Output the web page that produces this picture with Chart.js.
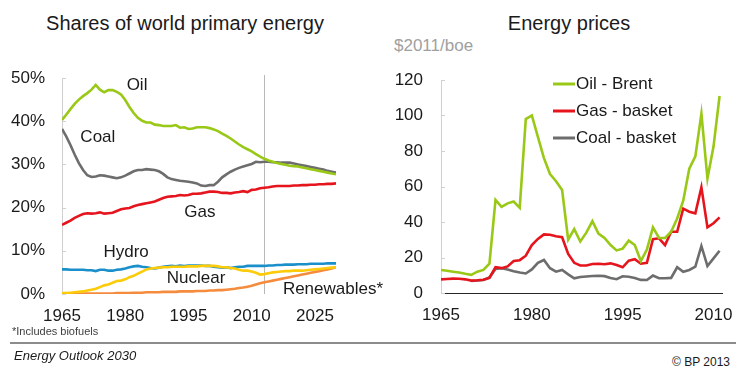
<!DOCTYPE html>
<html>
<head>
<meta charset="utf-8">
<script src="https://cdn.jsdelivr.net/npm/chart.js@4.4.1/dist/chart.umd.min.js"></script>
<style>
  body { margin: 0; width: 736px; height: 370px; overflow: hidden; background: #fff; position: relative; font-family: "Liberation Sans", Arial, sans-serif; color: #1a1a1a; }
  .titre { position: absolute; top: 12px; font-family: "Liberation Sans Narrow", "Liberation Sans", Arial, sans-serif; font-size: 20px; white-space: nowrap; transform: translateX(-50%); }
  .bloc { position: absolute; top: 60px; }
  #unite { position: absolute; left: 394px; top: 36px; font-size: 17px; color: #a0a0a0; }
  #note { position: absolute; left: 12px; top: 325px; font-size: 11px; color: #404040; }
  #trait { position: absolute; left: 10px; top: 342px; width: 726px; border-top: 2px solid #8c8c8c; }
  #source { position: absolute; left: 14px; top: 348px; font-size: 13px; font-style: italic; }
  #copy { position: absolute; right: 6px; top: 355px; font-size: 12px; }
</style>
</head>
<body>

<div class="titre" style="left:185px">Shares of world primary energy</div>
<div class="titre" style="left:569px">Energy prices</div>
<div id="unite">$2011/boe</div>

<div class="bloc" style="left:0px"><canvas id="graphParts" width="400" height="270"></canvas></div>
<div class="bloc" style="left:370px"><canvas id="graphPrix" width="375" height="270"></canvas></div>

<div id="note">*Includes biofuels</div>
<div id="trait"></div>
<div id="source">Energy Outlook 2030</div>
<div id="copy">© BP 2013</div>

<script>
//************************************ Données graphe 1 : parts de l'énergie primaire mondiale (%) ************************************

const anneesParts = Array.from({ length: 66 }, (_, i) => 1965 + i) // 1965 -> 2030
const ticksParts = [1965, 1980, 1995, 2010, 2025]

const partPetrole = [40.3, 41.5, 42.8, 44.0, 45.0, 45.8, 46.5, 47.3, 48.4, 47.3,
  46.7, 47.2, 47.2, 46.8, 46.2, 44.9, 43.3, 41.9, 40.8, 40.1,
  39.7, 39.7, 39.2, 39.1, 38.9, 38.9, 38.9, 39.1, 38.5, 38.6,
  38.2, 38.3, 38.6, 38.6, 38.6, 38.4, 38.1, 37.7, 37.1, 36.6,
  36.0, 35.3, 34.6, 34.0, 33.5, 33.0, 32.4, 31.8, 31.3, 30.9,
  30.6, 30.3, 30.1, 29.9, 29.7, 29.6, 29.5, 29.3, 29.1, 28.9,
  28.7, 28.5, 28.3, 28.1, 27.9, 27.7]

const partCharbon = [38.2, 36.5, 34.5, 32.3, 30.3, 28.7, 27.5, 27.1, 27.2, 27.5,
  27.4, 27.2, 27.0, 26.8, 27.0, 27.4, 27.9, 28.4, 28.7, 28.7,
  28.9, 28.8, 28.7, 28.4, 27.8, 27.0, 26.6, 26.4, 26.2, 26.1,
  26.0, 25.8, 25.6, 25.1, 25.0, 25.2, 25.2, 26.0, 27.0, 27.7,
  28.3, 28.8, 29.2, 29.5, 29.8, 30.1, 30.6, 30.5, 30.6, 30.6,
  30.5, 30.5, 30.4, 30.4, 30.4, 30.2, 30.0, 29.8, 29.6, 29.4,
  29.2, 29.0, 28.8, 28.5, 28.3, 28.1]

const partGaz = [16.0, 16.5, 17.0, 17.6, 18.1, 18.5, 18.7, 18.6, 18.7, 18.9,
  18.6, 18.7, 18.8, 19.2, 19.6, 19.8, 19.9, 20.3, 20.6, 20.8,
  21.0, 21.2, 21.4, 21.8, 22.2, 22.5, 22.6, 22.7, 22.9, 22.8,
  22.9, 23.2, 23.2, 23.3, 23.5, 23.7, 23.7, 23.6, 23.4, 23.4,
  23.3, 23.5, 23.6, 23.8, 23.6, 24.1, 24.2, 24.5, 24.6, 24.7,
  24.9, 25.0, 25.0, 25.0, 25.0, 25.1, 25.1, 25.2, 25.2, 25.3,
  25.3, 25.4, 25.4, 25.5, 25.5, 25.6]

const partHydro = [5.7, 5.7, 5.6, 5.6, 5.6, 5.6, 5.5, 5.5, 5.3, 5.6,
  5.6, 5.4, 5.4, 5.6, 5.7, 5.9, 6.2, 6.4, 6.5, 6.3,
  6.2, 6.0, 5.9, 6.1, 6.3, 6.4, 6.5, 6.4, 6.6, 6.5,
  6.6, 6.6, 6.6, 6.6, 6.5, 6.5, 6.3, 6.2, 6.1, 6.2,
  6.0, 6.2, 6.3, 6.3, 6.5, 6.5, 6.5, 6.5, 6.5, 6.6,
  6.6, 6.7, 6.7, 6.8, 6.8, 6.8, 6.9, 6.9, 6.9, 7.0,
  7.0, 7.0, 7.0, 7.1, 7.1, 7.1]

const partNucleaire = [0.2, 0.2, 0.3, 0.4, 0.5, 0.6, 0.8, 1.0, 1.2, 1.6,
  2.0, 2.2, 2.6, 3.0, 3.1, 3.4, 3.9, 4.2, 4.7, 5.2,
  5.7, 5.9, 6.0, 6.1, 6.2, 6.2, 6.3, 6.3, 6.3, 6.3,
  6.4, 6.4, 6.4, 6.5, 6.5, 6.5, 6.5, 6.4, 6.2, 6.2,
  6.0, 5.9, 5.6, 5.4, 5.4, 5.2, 4.9, 4.5, 4.6, 4.8,
  5.0, 5.1, 5.2, 5.3, 5.3, 5.4, 5.4, 5.4, 5.5, 5.6,
  5.7, 5.8, 5.9, 6.0, 6.1, 6.2]

const partRenouvelables = [0.1, 0.1, 0.1, 0.1, 0.1, 0.1, 0.1, 0.1, 0.1, 0.1,
  0.1, 0.1, 0.1, 0.2, 0.2, 0.2, 0.2, 0.3, 0.3, 0.3,
  0.4, 0.4, 0.4, 0.4, 0.5, 0.5, 0.5, 0.5, 0.6, 0.6,
  0.6, 0.6, 0.7, 0.7, 0.7, 0.8, 0.8, 0.9, 0.9, 1.0,
  1.1, 1.2, 1.4, 1.5, 1.7, 1.9, 2.2, 2.5, 2.7, 2.9,
  3.1, 3.3, 3.5, 3.7, 3.9, 4.1, 4.3, 4.5, 4.7, 4.9,
  5.1, 5.3, 5.5, 5.7, 5.9, 6.2]

const ANNEE_PROJECTION = 2013 // trait vertical : début des projections

//************************************ Données graphe 2 : prix de l'énergie ($2011/boe) ************************************

const anneesPrix = Array.from({ length: 47 }, (_, i) => 1965 + i) // 1965 -> 2011
const ticksPrix = [1965, 1980, 1995, 2010]

const prixBrent = [13.0, 12.5, 12.0, 11.5, 10.8, 10.2, 12.0, 13.0, 16.5, 52.5,
  48.5, 50.5, 51.5, 48.0, 98.0, 100.0, 88.0, 76.0, 67.0, 63.0,
  58.0, 30.0, 36.0, 29.0, 34.0, 40.5, 33.5, 31.0, 27.0, 24.0,
  25.0, 29.5, 27.0, 18.0, 24.5, 37.0, 31.0, 31.0, 34.5, 42.0,
  52.0, 70.0, 77.0, 101.0, 64.5, 82.5, 111.0]

const prixGaz = [7.7, 7.9, 8.1, 8.0, 7.7, 7.0, 7.2, 7.5, 8.5, 14.5,
  14.0, 15.0, 18.0, 18.5, 21.0, 27.0, 30.5, 33.0, 32.8, 32.0,
  31.4, 22.0, 17.0, 15.5, 15.5, 16.3, 16.5, 16.2, 16.7, 15.8,
  14.5, 18.2, 19.0, 16.5, 17.0, 30.3, 30.8, 27.0, 34.5, 34.5,
  47.5, 45.8, 44.9, 59.5, 37.0, 39.3, 42.6]

const prixCharbon = [null, null, null, null, null, 6.8, 7.0, 7.3, 8.8, 13.5,
  13.9, 13.2, 12.3, 11.5, 11.0, 13.3, 17.0, 18.6, 14.0, 12.0,
  13.0, 10.5, 8.3, 9.0, 9.3, 9.6, 9.7, 9.5, 8.5, 7.8,
  9.4, 9.2, 8.5, 7.4, 7.3, 9.8, 8.3, 8.3, 8.5, 14.5,
  12.0, 13.0, 14.8, 26.5, 15.2, 19.5, 23.8]

//************************************ Couleurs ************************************

const VERT = '#99c817'
const ROUGE = '#e5141d'
const GRIS = '#6d6d6d'
const BLEU = '#1a8fc9'
const JAUNE = '#fccb0a'
const ORANGE = '#f58b3c'
const TEXTE = '#1a1a1a'

Chart.defaults.font.family = '"Liberation Sans", Arial, sans-serif'
Chart.defaults.font.size = 17
Chart.defaults.color = TEXTE

// transforme deux tableaux (années, valeurs) en points {x, y} pour l'axe linéaire
function enPoints(annees, valeurs) {
  return annees.map((a, i) => ({ x: a, y: valeurs[i] }))
}

function serie(label, annees, valeurs, couleur) {
  return {
    label: label,
    data: enPoints(annees, valeurs),
    borderColor: couleur,
    backgroundColor: couleur,
    borderWidth: 2.6,
    pointRadius: 0,
    tension: 0,
    spanGaps: false
  }
}

// l'axe vertical ne doit pas réserver de marge en haut/bas pour ses libellés
function largeurAxeY(largeur) {
  return s => {
    s.width = largeur
    s.paddingTop = 0
    s.paddingBottom = 0
  }
}

// petites graduations vers l'intérieur sur l'axe vertical
const graduations = {
  id: 'graduations',
  afterDraw(chart) {
    const ctx = chart.ctx
    const y = chart.scales.y
    ctx.save()
    ctx.strokeStyle = '#d0d0d0'
    ctx.lineWidth = 1
    for (const t of y.ticks) {
      const py = Math.round(y.getPixelForValue(t.value)) + 0.5
      ctx.beginPath()
      ctx.moveTo(chart.chartArea.left, py)
      ctx.lineTo(chart.chartArea.left + 4, py)
      ctx.stroke()
    }
    ctx.restore()
  }
}

// trait vertical qui sépare l'historique des projections
const traitProjection = {
  id: 'traitProjection',
  beforeDatasetsDraw(chart) {
    const ctx = chart.ctx
    const px = Math.round(chart.scales.x.getPixelForValue(ANNEE_PROJECTION)) + 0.5
    ctx.save()
    ctx.strokeStyle = '#b8b8b8'
    ctx.lineWidth = 1
    ctx.beginPath()
    ctx.moveTo(px, chart.chartArea.top - 3)
    ctx.lineTo(px, chart.chartArea.bottom)
    ctx.stroke()
    ctx.restore()
  }
}

// noms des énergies écrits directement dans le graphe 1
const NOMS = [
  { texte: 'Oil', x: 1982.8, y: 48.4, align: 'center' },
  { texte: 'Coal', x: 1973.5, y: 36.3, align: 'center' },
  { texte: 'Gas', x: 1997.7, y: 19.0, align: 'center' },
  { texte: 'Hydro', x: 1980.2, y: 9.7, align: 'center' },
  { texte: 'Nuclear', x: 1996.8, y: 3.7, align: 'center' },
  { texte: 'Renewables*', x: 2017.4, y: 1.2, align: 'left' }
]

const nomsEnergies = {
  id: 'nomsEnergies',
  afterDraw(chart) {
    const ctx = chart.ctx
    ctx.save()
    ctx.font = '17px "Liberation Sans", Arial, sans-serif'
    ctx.fillStyle = TEXTE
    ctx.textBaseline = 'middle'
    for (const n of NOMS) {
      ctx.textAlign = n.align
      ctx.fillText(n.texte, chart.scales.x.getPixelForValue(n.x), chart.scales.y.getPixelForValue(n.y))
    }
    ctx.restore()
  }
}

// légende dessinée à la main dans la zone du graphe 2
const legendeInterne = {
  id: 'legendeInterne',
  afterDraw(chart) {
    const ctx = chart.ctx
    const x0 = 183
    let y0 = 24
    ctx.save()
    ctx.font = '17px "Liberation Sans", Arial, sans-serif'
    ctx.textBaseline = 'middle'
    ctx.textAlign = 'left'
    for (const ds of chart.data.datasets) {
      ctx.strokeStyle = ds.borderColor
      ctx.lineWidth = 3
      ctx.beginPath()
      ctx.moveTo(x0, y0)
      ctx.lineTo(x0 + 22, y0)
      ctx.stroke()
      ctx.fillStyle = TEXTE
      ctx.fillText(ds.label, x0 + 23, y0)
      y0 += 27
    }
    ctx.restore()
  }
}

//************************************ Graphe 1 ************************************

new Chart(document.getElementById('graphParts'), {
  type: 'line',
  data: {
    datasets: [
      serie('Oil', anneesParts, partPetrole, VERT),
      serie('Coal', anneesParts, partCharbon, GRIS),
      serie('Gas', anneesParts, partGaz, ROUGE),
      serie('Nuclear', anneesParts, partNucleaire, JAUNE),
      serie('Hydro', anneesParts, partHydro, BLEU),
      serie('Renewables*', anneesParts, partRenouvelables, ORANGE)
    ]
  },
  options: {
    responsive: false,
    animation: false,
    layout: { padding: { top: 18, right: 64, bottom: 0, left: 0 } },
    plugins: { legend: { display: false }, tooltip: { enabled: false } },
    scales: {
      x: {
        type: 'linear', min: 1965, max: 2030,
        afterBuildTicks: s => { s.ticks = ticksParts.map(v => ({ value: v })) },
        afterFit: s => { s.height = 36 },
        grid: { display: false, drawTicks: false },
        border: { display: false },
        ticks: { padding: 12, maxRotation: 0, callback: v => String(v) }
      },
      y: {
        min: 0, max: 50,
        ticks: { stepSize: 10, padding: 17, callback: v => v + '%' },
        afterFit: largeurAxeY(62),
        grid: { display: false, drawTicks: false },
        border: { display: true, color: '#d0d0d0', width: 1 }
      }
    }
  },
  plugins: [graduations, traitProjection, nomsEnergies]
})

//************************************ Graphe 2 ************************************

new Chart(document.getElementById('graphPrix'), {
  type: 'line',
  data: {
    datasets: [
      serie('Oil - Brent', anneesPrix, prixBrent, VERT),
      serie('Gas - basket', anneesPrix, prixGaz, ROUGE),
      serie('Coal - basket', anneesPrix, prixCharbon, GRIS)
    ]
  },
  options: {
    responsive: false,
    animation: false,
    layout: { padding: { top: 20, right: 18, bottom: 0, left: 0 } },
    plugins: { legend: { display: false }, tooltip: { enabled: false } },
    scales: {
      x: {
        type: 'linear', min: 1965, max: 2011.5,
        afterBuildTicks: s => { s.ticks = ticksPrix.map(v => ({ value: v })) },
        afterFit: s => { s.height = 37 },
        grid: { display: false, drawTicks: false },
        border: { display: true, color: '#262626', width: 1 },
        ticks: { padding: 12, maxRotation: 0, callback: v => String(v) }
      },
      y: {
        min: 0, max: 120,
        ticks: { stepSize: 20, padding: 18 },
        afterFit: largeurAxeY(71),
        grid: { display: false, drawTicks: false },
        border: { display: true, color: '#d0d0d0', width: 1 }
      }
    }
  },
  plugins: [graduations, legendeInterne]
})
</script>
</body>
</html>
